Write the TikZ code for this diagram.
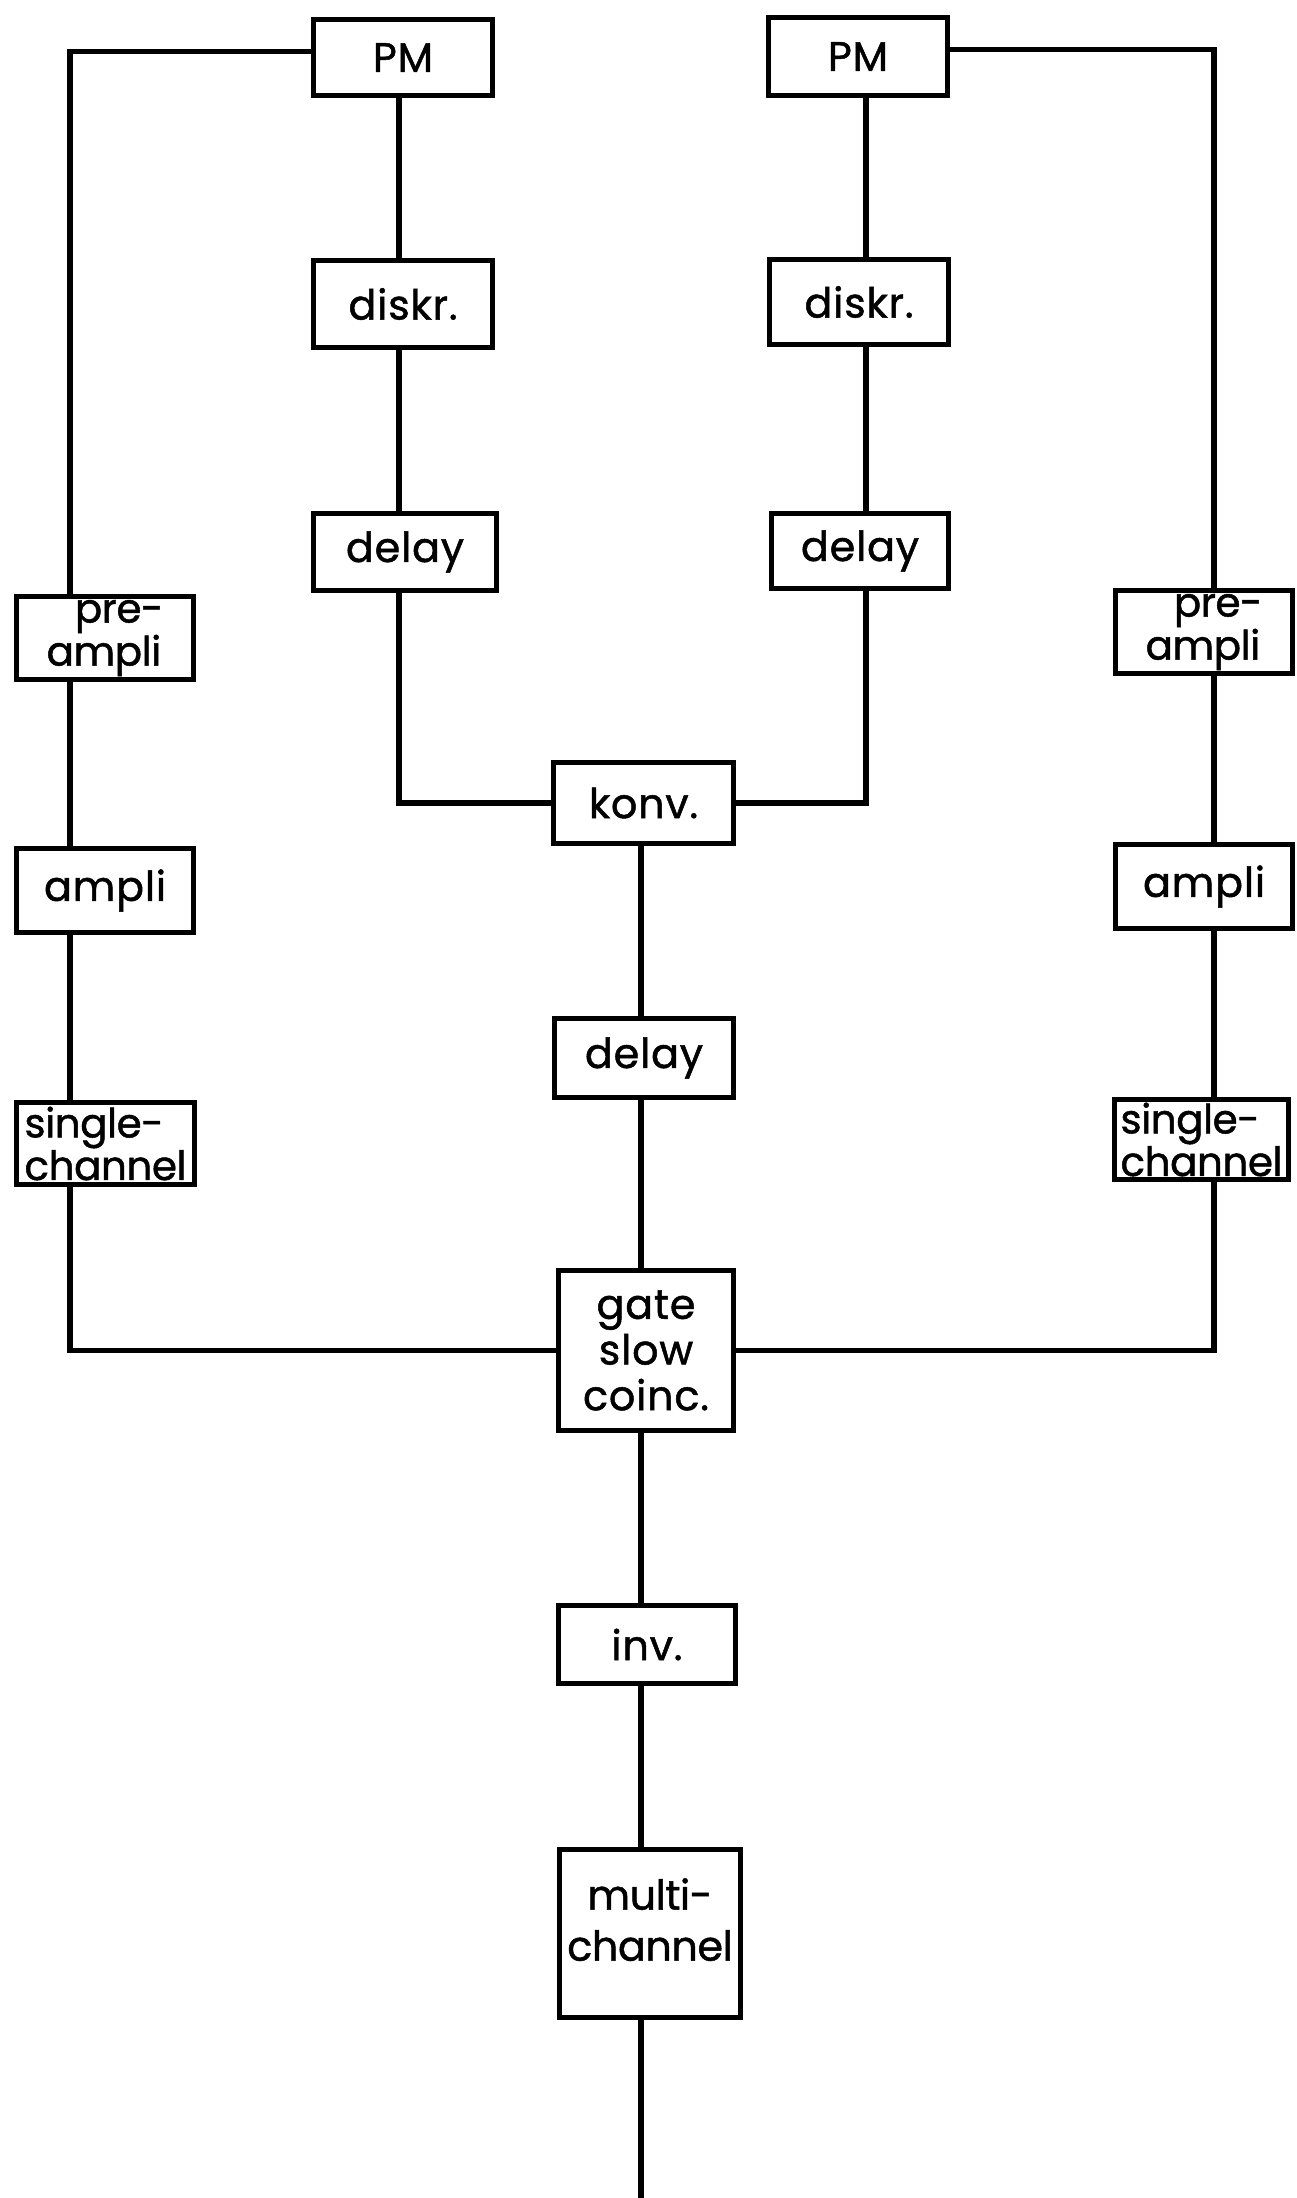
\documentclass[tikz,border=0pt]{standalone}
\usepackage{fontspec}
\setmainfont{Poppins}[UprightFeatures={FakeBold=1.2}, LetterSpace=2]
\newfontfamily\narrowlabel{Poppins}[UprightFeatures={FakeBold=1.2}, LetterSpace=-1]
\begin{document}
\begin{tikzpicture}[x=0.02cm, y=-0.02cm, line width=3pt, line join=miter,
  blk/.style={draw, line width=3pt, inner sep=0pt, align=center,
    font=\fontsize{23.5}{22}\selectfont},
  twoline/.style={align=left, font=\narrowlabel\fontsize{23}{21}\selectfont}]
\useasboundingbox (0,0) rectangle (1297,2198);

% column positions of the signal lines
\coordinate (cL)  at (70,0);
\coordinate (cPL) at (399,0);
\coordinate (cC)  at (641,0);
\coordinate (cPR) at (866,0);
\coordinate (cR)  at (1214,0);
\coordinate (out) at (641,2198);

% fast branch (left detector)
\node[blk, minimum width=3.57cm, minimum height=1.51cm] (pmL) at (403,57.5) {PM};
\node[blk, minimum width=3.57cm, minimum height=1.73cm] (dkL) at (403,304) {diskr.};
\node[blk, minimum width=3.65cm, minimum height=1.53cm] (dlL) at (405,552) {delay};

% fast branch (right detector)
\node[blk, minimum width=3.57cm, minimum height=1.55cm] (pmR) at (858,56.5) {PM};
\node[blk, minimum width=3.57cm, minimum height=1.69cm] (dkR) at (859,302) {diskr.};
\node[blk, minimum width=3.55cm, minimum height=1.49cm] (dlR) at (860,551) {delay};

% slow branch (left)
\node[blk, twoline, minimum width=3.53cm, minimum height=1.65cm] (preL) at (105,638) {\hspace*{0.7em}pre-\\ampli};
\node[blk, minimum width=3.53cm, minimum height=1.67cm] (ampL) at (105,890.5) {ampli};
\node[blk, twoline, minimum width=3.55cm, minimum height=1.63cm] (scL) at (105.5,1143.5) {single-\\channel};

% slow branch (right)
\node[blk, twoline, minimum width=3.53cm, minimum height=1.65cm] (preR) at (1204,632) {\hspace*{0.7em}pre-\\ampli};
\node[blk, minimum width=3.53cm, minimum height=1.67cm] (ampR) at (1204,886.5) {ampli};
\node[blk, twoline, minimum width=3.47cm, minimum height=1.59cm] (scR) at (1201.5,1139.5) {single-\\channel};

% central chain
\node[blk, minimum width=3.59cm, minimum height=1.61cm] (konv) at (643.5,803) {konv.};
\node[blk, minimum width=3.57cm, minimum height=1.57cm] (dlC) at (644,1058) {delay};
\node[blk, font=\fontsize{23.5}{26}\selectfont, minimum width=3.49cm, minimum height=3.19cm] (gate) at (646,1350.5) {gate\\slow\\coinc.};
\node[blk, minimum width=3.53cm, minimum height=1.55cm] (inv) at (647,1644.5) {inv.};
\node[blk, font=\narrowlabel\fontsize{23.5}{29}\selectfont, text depth=16pt, minimum width=3.61cm, minimum height=3.35cm] (mc) at (650,1933.5) {multi-\\channel};

% left detector connections
\draw ([yshift=3.6pt]pmL.west) -| (preL.north -| cL);
\draw (preL.south -| cL) -- (ampL.north -| cL);
\draw (ampL.south -| cL) -- (scL.north -| cL);
\draw (scL.south -| cL) |- (gate.west);
\draw (pmL.south -| cPL) -- (dkL.north -| cPL);
\draw (dkL.south -| cPL) -- (dlL.north -| cPL);
\draw (dlL.south -| cPL) |- (konv.west);

% right detector connections
\draw ([yshift=4pt]pmR.east) -| (preR.north -| cR);
\draw (preR.south -| cR) -- (ampR.north -| cR);
\draw (ampR.south -| cR) -- (scR.north -| cR);
\draw (scR.south -| cR) |- (gate.east);
\draw (pmR.south -| cPR) -- (dkR.north -| cPR);
\draw (dkR.south -| cPR) -- (dlR.north -| cPR);
\draw (dlR.south -| cPR) |- (konv.east);

% central chain connections
\draw (konv.south -| cC) -- (dlC.north -| cC);
\draw (dlC.south -| cC) -- (gate.north -| cC);
\draw (gate.south -| cC) -- (inv.north -| cC);
\draw (inv.south -| cC) -- (mc.north -| cC);
\draw (mc.south -| cC) -- (out);
\end{tikzpicture}
\end{document}
